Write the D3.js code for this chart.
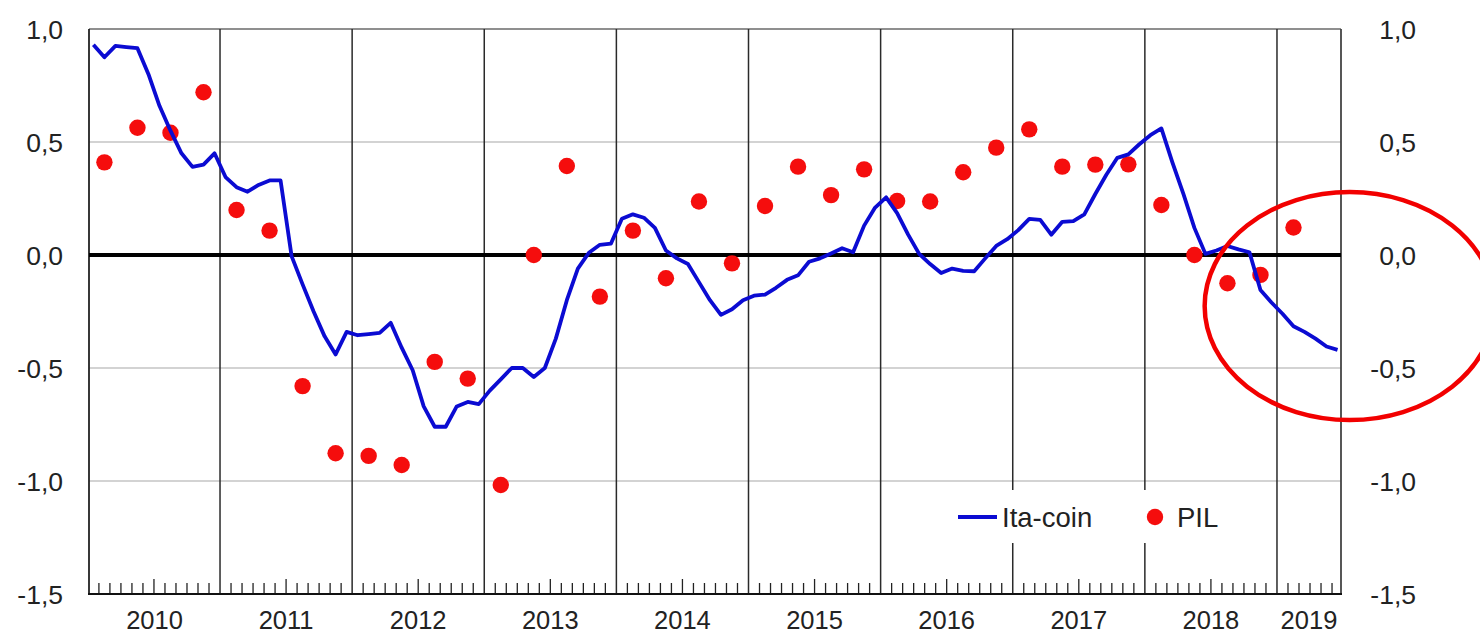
<!DOCTYPE html>
<html>
<head>
<meta charset="utf-8">
<script src="https://cdn.jsdelivr.net/npm/d3@7"></script>
<style>
  html, body { margin: 0; padding: 0; background: #fff; }
  svg { display: block; font-family: "Liberation Sans", Arial, Helvetica, sans-serif; }
</style>
</head>
<body>
<svg id="chart" width="1480" height="635"></svg>
<script>
// ---------------- DATA ----------------
const startYear = 2010;
const years = ["2010","2011","2012","2013","2014","2015","2016","2017","2018","2019"];
const yTicks = [1.0, 0.5, 0.0, -0.5, -1.0, -1.5];
const yTickLabels = ["1,0","0,5","0,0","-0,5","-1,0","-1,5"];
const seriesNames = ["Ita-coin", "PIL"];

// Ita-coin, monthly, Jan 2010 .. Jun 2019
const itaCoin = [
  0.93, 0.875, 0.925, 0.92, 0.915, 0.80, 0.66, 0.55, 0.45, 0.39, 0.40, 0.45,      // 2010
  0.345, 0.30, 0.28, 0.31, 0.33, 0.33, -0.005, -0.13, -0.25, -0.36, -0.44, -0.34, // 2011
  -0.355, -0.35, -0.345, -0.30, -0.41, -0.51, -0.67, -0.76, -0.76, -0.67, -0.65, -0.66, // 2012
  -0.60, -0.55, -0.50, -0.50, -0.54, -0.50, -0.37, -0.20, -0.06, 0.01, 0.045, 0.05, // 2013
  0.16, 0.18, 0.165, 0.12, 0.02, -0.015, -0.04, -0.12, -0.20, -0.265, -0.24, -0.20, // 2014
  -0.18, -0.175, -0.145, -0.11, -0.09, -0.03, -0.015, 0.007, 0.03, 0.012, 0.13, 0.21, // 2015
  0.255, 0.185, 0.09, 0.005, -0.04, -0.08, -0.06, -0.07, -0.072, -0.015, 0.04, 0.07, // 2016
  0.11, 0.16, 0.155, 0.09, 0.147, 0.15, 0.18, 0.27, 0.355, 0.43, 0.445, 0.49,     // 2017
  0.53, 0.56, 0.41, 0.27, 0.12, 0.005, 0.02, 0.04, 0.025, 0.012, -0.155, -0.21,   // 2018
  -0.26, -0.315, -0.34, -0.37, -0.405, -0.42                                      // 2019
];

// PIL (GDP), quarterly, Q1 2010 .. Q1 2019
const pil = [
  0.41, 0.563, 0.541, 0.72,
  0.199, 0.108, -0.58, -0.877,
  -0.889, -0.929, -0.473, -0.547,
  -1.018, 0.0, 0.394, -0.184,
  0.108, -0.103, 0.237, -0.037,
  0.217, 0.391, 0.265, 0.379,
  0.239, 0.237, 0.366, 0.475,
  0.556, 0.391, 0.40, 0.401,
  0.221, 0.0, -0.125, -0.088,
  0.122
];

// ---------------- LAYOUT ----------------
const W = 1480, H = 635;
const frame = { left: 89, right: 1341, top: 29, bottom: 594 };
const blue = "#0b0bd2", red = "#f50d0d";

const svg = d3.select("#chart");

// x in month units since Jan 2010
const x = d3.scaleLinear().domain([0, 114]).range([87.9, 87.9 + 114 * 11.01]);
const y = d3.scaleLinear().domain([-1.5, 1.0]).range([frame.bottom, frame.top]);
const mStart = x.invert(frame.left), mEnd = x.invert(frame.right);

// horizontal gridlines (light grey)
svg.append("g").selectAll("line")
  .data(yTicks.filter(v => v !== 0 && v !== -1.5 && v !== 1.0))
  .join("line")
  .attr("x1", frame.left).attr("x2", frame.right)
  .attr("y1", d => y(d)).attr("y2", d => y(d))
  .attr("stroke", "#a8a8a8").attr("stroke-width", 1.2);

// top border
svg.append("line")
  .attr("x1", frame.left).attr("x2", frame.right)
  .attr("y1", y(1.0)).attr("y2", y(1.0))
  .attr("stroke", "#6a6a6a").attr("stroke-width", 1.5);

// vertical year lines
const yearBounds = d3.range(1, years.length).map(k => k * 12);
svg.append("g").selectAll("line")
  .data(yearBounds)
  .join("line")
  .attr("x1", d => x(d)).attr("x2", d => x(d))
  .attr("y1", frame.top).attr("y2", frame.bottom)
  .attr("stroke", "#2a2a2a").attr("stroke-width", 1.5);

// left / right frame
svg.append("line").attr("x1", frame.left).attr("x2", frame.left)
  .attr("y1", frame.top).attr("y2", frame.bottom)
  .attr("stroke", "#222").attr("stroke-width", 1.8);
svg.append("line").attr("x1", frame.right).attr("x2", frame.right)
  .attr("y1", frame.top).attr("y2", frame.bottom)
  .attr("stroke", "#444").attr("stroke-width", 1.8);

// monthly ticks on bottom axis
const monthTicks = d3.range(1, 114).filter(m => m % 12 !== 0 && x(m) < frame.right);
svg.append("g").selectAll("line")
  .data(monthTicks)
  .join("line")
  .attr("x1", d => x(d)).attr("x2", d => x(d))
  .attr("y1", frame.bottom)
  .attr("y2", d => frame.bottom - (d % 12 === 6 ? 15 : 11))
  .attr("stroke", "#222").attr("stroke-width", 1.3);

// bottom axis
svg.append("line")
  .attr("x1", frame.left - 1).attr("x2", frame.right + 1)
  .attr("y1", frame.bottom).attr("y2", frame.bottom)
  .attr("stroke", "#111").attr("stroke-width", 2.2);

// zero line
svg.append("line")
  .attr("x1", frame.left).attr("x2", frame.right)
  .attr("y1", y(0)).attr("y2", y(0))
  .attr("stroke", "#000").attr("stroke-width", 4);

// year labels
svg.append("g").selectAll("text")
  .data(years)
  .join("text")
  .attr("x", (d, k) => x((Math.max(k * 12, mStart) + Math.min(k * 12 + 12, mEnd)) / 2))
  .attr("y", 629)
  .attr("text-anchor", "middle")
  .attr("font-size", 25.5)
  .attr("fill", "#222")
  .text(d => d);

// y labels left & right
svg.append("g").selectAll("text")
  .data(yTicks)
  .join("text")
  .attr("x", 63).attr("y", d => y(d)).attr("dy", "0.36em")
  .attr("text-anchor", "end").attr("font-size", 26.5).attr("fill", "#222")
  .text((d, i) => yTickLabels[i]);
svg.append("g").selectAll("text")
  .data(yTicks)
  .join("text")
  .attr("x", 1416).attr("y", d => y(d)).attr("dy", "0.36em")
  .attr("text-anchor", "end").attr("font-size", 26.5).attr("fill", "#222")
  .text((d, i) => yTickLabels[i]);

// legend background box (hides vertical grid lines)
svg.append("rect")
  .attr("x", 946).attr("y", 490).attr("width", 288).attr("height", 53)
  .attr("fill", "#fff");

// PIL dots
svg.append("g").selectAll("circle")
  .data(pil)
  .join("circle")
  .attr("cx", (d, q) => x(q * 3 + 1.5))
  .attr("cy", d => y(d))
  .attr("r", 8.2)
  .attr("fill", red);

// Ita-coin line
const line = d3.line()
  .x((d, i) => x(i + 0.5))
  .y(d => y(d));
svg.append("path")
  .datum(itaCoin)
  .attr("d", line)
  .attr("fill", "none")
  .attr("stroke", blue)
  .attr("stroke-width", 3.8)
  .attr("stroke-linejoin", "round");

// legend
const lg = svg.append("g");
lg.append("line").attr("x1", 958).attr("x2", 997).attr("y1", 517).attr("y2", 517)
  .attr("stroke", blue).attr("stroke-width", 3.8);
lg.append("text").attr("x", 1002).attr("y", 517).attr("dy", "0.36em")
  .attr("font-size", 27.5).attr("fill", "#222").text(seriesNames[0]);
lg.append("circle").attr("cx", 1155).attr("cy", 517).attr("r", 8.2).attr("fill", red);
lg.append("text").attr("x", 1177).attr("y", 517).attr("dy", "0.36em")
  .attr("font-size", 27.5).attr("fill", "#222").text(seriesNames[1]);

// red highlight ellipse (annotation)
svg.append("ellipse")
  .attr("cx", x(114.6)).attr("cy", y(-0.226))
  .attr("rx", 145).attr("ry", 114)
  .attr("fill", "none")
  .attr("stroke", "#f20000")
  .attr("stroke-width", 4.5);
</script>
</body>
</html>
